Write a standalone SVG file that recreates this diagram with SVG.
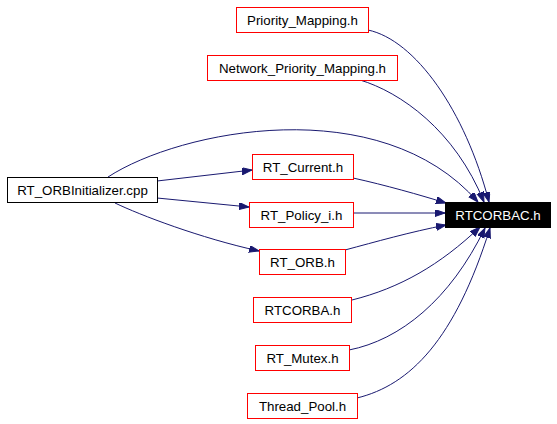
<svg xmlns="http://www.w3.org/2000/svg" width="557" height="424" viewBox="0 0 557 424">
<style>
  .box { fill: #ffffff; stroke: #ff0000; stroke-width: 1; }
  .main { fill: #000000; stroke: #000000; stroke-width: 1; }
  .lbl { font-family: "Liberation Sans", Arial, Helvetica, sans-serif; font-size: 13.3px; text-anchor: middle; fill: #000000; }
  .lblw { fill: #ffffff; }
  .edge { fill: none; stroke: #191970; stroke-width: 1; marker-end: url(#arr); }
</style>
<defs>
  <marker id="arr" markerUnits="userSpaceOnUse" markerWidth="11" markerHeight="8" refX="10" refY="3.5" orient="auto">
    <path d="M0,0 L10,3.5 L0,7 z" fill="#191970" stroke="#191970" stroke-width="1"/>
  </marker>
</defs>
<rect width="557" height="424" fill="#ffffff"/>
<g id="connectors">
  <path class="edge" d="M368,30 C415,40 465,110 489,202"/>
  <path class="edge" d="M360,80 C400,92 455,130 484,202"/>
  <path class="edge" d="M108,177 C180,130 380,90 478,202"/>
  <path class="edge" d="M157,181 L252,170"/>
  <path class="edge" d="M157,198 L249,207"/>
  <path class="edge" d="M115,203 C140,215 200,238 259,251"/>
  <path class="edge" d="M353,178 C385,185 420,195 446,203"/>
  <path class="edge" d="M353,213 L445,213"/>
  <path class="edge" d="M345,250 C375,242 410,232 446,225"/>
  <path class="edge" d="M352,300 C400,288 440,265 480,227"/>
  <path class="edge" d="M349,350 C400,340 450,300 485,228"/>
  <path class="edge" d="M357,398 C410,385 455,340 490,228"/>
</g>
<g id="node-priority-mapping">
  <rect class="box" x="236.5" y="7.5" width="132" height="25"/>
  <text class="lbl" x="302.5" y="24.5">Priority_Mapping.h</text>
</g>
<g id="node-network-priority-mapping">
  <rect class="box" x="207.5" y="55.5" width="190" height="25"/>
  <text class="lbl" x="302.5" y="72.5">Network_Priority_Mapping.h</text>
</g>
<g id="node-rt-orbinitializer">
  <rect class="box" x="7.5" y="177.5" width="150" height="25" style="stroke:#000000"/>
  <text class="lbl" x="82.5" y="194.5">RT_ORBInitializer.cpp</text>
</g>
<g id="node-rt-current">
  <rect class="box" x="252.5" y="154.5" width="101" height="25"/>
  <text class="lbl" x="303" y="171.5">RT_Current.h</text>
</g>
<g id="node-rt-policy-i">
  <rect class="box" x="249.5" y="202.5" width="104" height="25"/>
  <text class="lbl" x="301.5" y="219.5">RT_Policy_i.h</text>
</g>
<g id="node-rt-orb">
  <rect class="box" x="259.5" y="249.5" width="86" height="25"/>
  <text class="lbl" x="302.5" y="266.5">RT_ORB.h</text>
</g>
<g id="node-rtcorbac">
  <rect class="main" x="445.5" y="202.5" width="105" height="25"/>
  <text class="lbl lblw" x="498" y="219.5">RTCORBAC.h</text>
</g>
<g id="node-rtcorba">
  <rect class="box" x="253.5" y="297.5" width="98" height="25"/>
  <text class="lbl" x="302.5" y="314.5">RTCORBA.h</text>
</g>
<g id="node-rt-mutex">
  <rect class="box" x="255.5" y="345.5" width="94" height="25"/>
  <text class="lbl" x="302.5" y="362.5">RT_Mutex.h</text>
</g>
<g id="node-thread-pool">
  <rect class="box" x="247.5" y="393.5" width="110" height="25"/>
  <text class="lbl" x="302.5" y="410.5">Thread_Pool.h</text>
</g>
</svg>
